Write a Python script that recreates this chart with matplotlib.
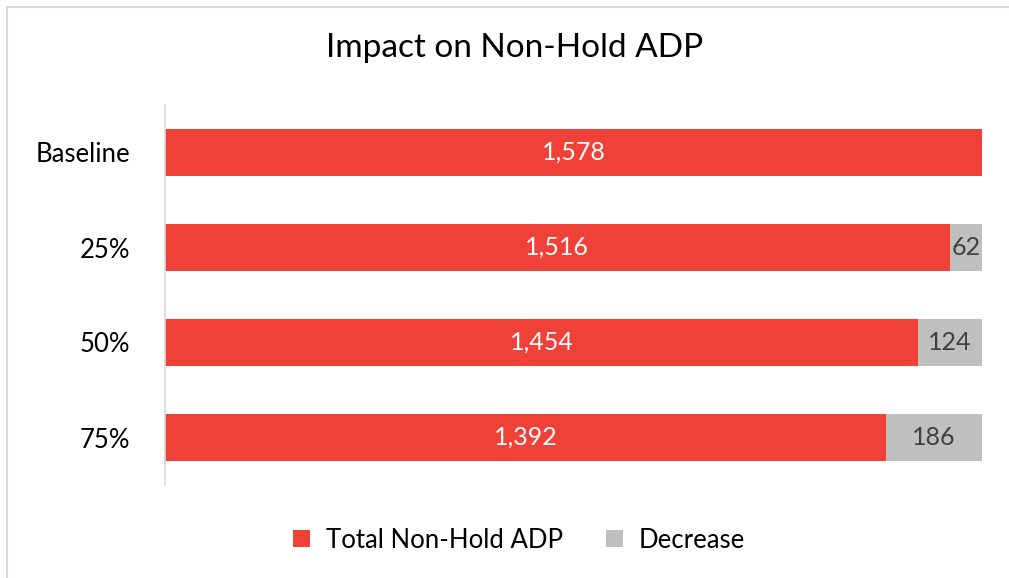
import matplotlib
matplotlib.use("Agg")
import matplotlib.pyplot as plt
from matplotlib.lines import Line2D

categories = ["Baseline", "25%", "50%", "75%"]
total_non_hold = [1578, 1516, 1454, 1392]
decrease = [0, 62, 124, 186]

RED = "#F04138"
GREY = "#BFBFBF"

plt.rcParams['font.family'] = ['Lato', 'DejaVu Sans']

fig = plt.figure(figsize=(10.09, 5.78), dpi=100)
# chart-area border (only top and left visible in the crop)
fig.lines.append(Line2D([6.5/1009, 6.5/1009], [0, 1 - 6.5/578], transform=fig.transFigure,
                        color="#D9D9D9", linewidth=1.5))
fig.lines.append(Line2D([6.5/1009, 1], [1 - 6.5/578, 1 - 6.5/578], transform=fig.transFigure,
                        color="#D9D9D9", linewidth=1.5))

ax = fig.add_axes([165/1009, (578-485)/578, (982-165)/1009, 380/578])

y = list(range(len(categories)))
b1 = ax.barh(y, total_non_hold, height=0.495, color=RED, label="Total Non-Hold ADP")
b2 = ax.barh(y, decrease, left=total_non_hold, height=0.495, color=GREY, label="Decrease")

for i in y:
    ax.text(total_non_hold[i] / 2, i, f"{total_non_hold[i]:,}", ha="center", va="center",
            color="white", fontsize=18)
    if decrease[i] > 0:
        ax.text(total_non_hold[i] + decrease[i] / 2, i, f"{decrease[i]:,}", ha="center", va="center",
                color="#404040", fontsize=18)

ax.set_xlim(0, 1578)
ax.set_ylim(3.5, -0.5)
ax.set_yticks(y)
ax.set_yticklabels(categories, fontsize=18.5)
ax.tick_params(axis="y", length=0, pad=25)
ax.set_xticks([])
for s in ["top", "right", "bottom"]:
    ax.spines[s].set_visible(False)
ax.spines["left"].set_color("#D9D9D9")
ax.spines["left"].set_linewidth(1.2)

fig.text(515/1009, 1 - 48/578, "Impact on Non-Hold ADP", ha="center", va="center", fontsize=24)

leg = fig.legend(handles=[b1, b2], loc="center", bbox_to_anchor=(519/1009, 1 - 540/578),
                 ncol=2, frameon=False, fontsize=18.5, handlelength=0.65, handleheight=0.65,
                 columnspacing=1.7, handletextpad=0.6)

fig.savefig("out.png", dpi=100)
